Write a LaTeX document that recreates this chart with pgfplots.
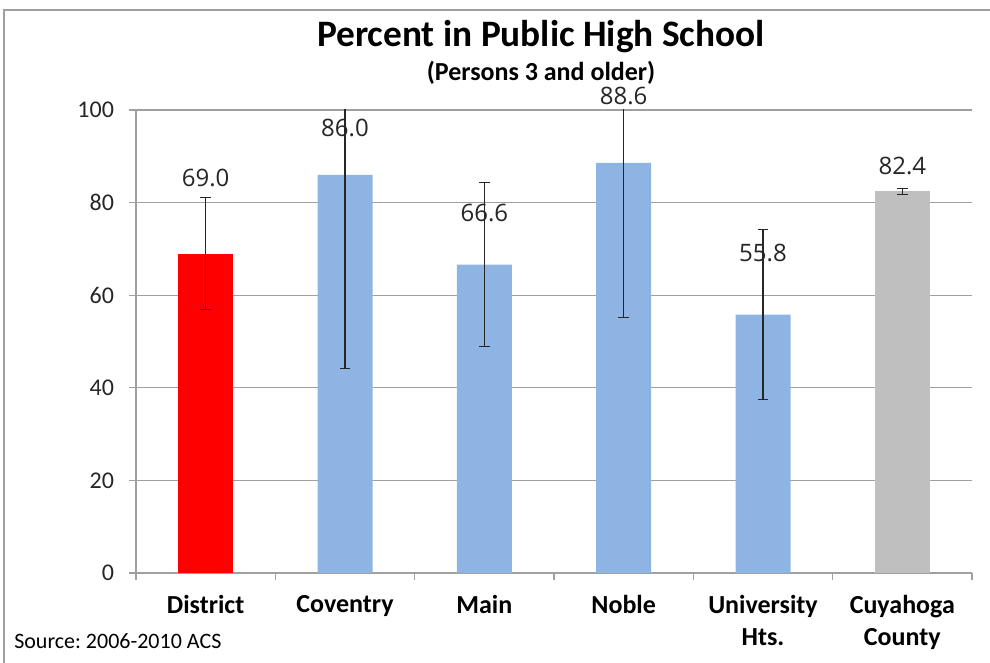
\documentclass[border=0pt]{standalone}
\usepackage{pgfplots}
\pgfplotsset{compat=1.18}
\usepackage{fontspec}
\setmainfont{Carlito}
\newfontfamily\lblfont{Open Sans}

\definecolor{barred}{RGB}{255,0,0}
\definecolor{barblue}{RGB}{141,180,226}
\definecolor{bargray}{RGB}{191,191,191}
\definecolor{linegray}{RGB}{160,160,160}

\begin{document}
\frenchspacing
\begin{tikzpicture}
% 1px = 0.75pt, picture is 990x663 px
\useasboundingbox (0,0) rectangle (742.5pt,497.25pt);
\draw[linegray, line width=0.8pt] (3pt,0) -- (3pt,489.75pt) -- (742.5pt,489.75pt);

\node[font=\fontsize{28}{32}\selectfont\bfseries] at (405.75pt,470pt) {Percent in Public High School};
\node[font=\fontsize{19.5}{22}\selectfont\bfseries] at (405.75pt,442.5pt) {(Persons 3 and older)};
\node[font=\fontsize{16.5}{19}\selectfont, anchor=west, inner sep=0pt] at (10.5pt,16.5pt) {Source: 2006-2010 ACS};

\begin{axis}[
    at={(102pt,67.5pt)}, anchor=south west,
    scale only axis,
    width=627pt, height=347.25pt,
    xmin=-0.5, xmax=5.5,
    ymin=0, ymax=100,
    clip mode=individual,
    axis x line*=bottom, axis y line*=left,
    axis line style={linegray, line width=0.8pt},
    ytick={0,20,...,100},
    xtick={0,...,5},
    xticklabels={District,Coventry,Main,Noble,University\\Hts.,Cuyahoga\\County},
    minor xtick={-0.5,0.5,...,5.5},
    major x tick style={draw=none},
    minor x tick style={linegray, line width=0.8pt},
    y tick style={linegray, line width=0.8pt},
    tick align=outside,
    major tick length=5pt, minor tick length=5pt,
    ymajorgrids,
    grid style={linegray, line width=0.8pt},
    yticklabel style={font=\fontsize{18}{20}\selectfont, black!85, xshift=-8pt},
    xticklabel style={font=\fontsize{19.5}{24}\selectfont\bfseries, align=center, yshift=-8pt},
    /pgf/number format/assume math mode=true,
    error bars/error bar style={black!85, line width=0.9pt},
    error bars/error mark options={rotate=90, mark size=4pt, black!85, line width=0.9pt},
]
\addplot[ybar, bar width=41.25pt, fill=barred, draw=none,
    error bars/.cd, y dir=both, y explicit]
    coordinates {(0,69.0) +- (0,12.1)};
\addplot[ybar, bar width=41.25pt, fill=barblue, draw=none,
    error bars/.cd, y dir=both, y explicit]
    coordinates {(1,86.0) +- (0,41.9) (2,66.6) +- (0,17.7) (3,88.6) +- (0,33.5) (4,55.8) +- (0,18.4)};
\addplot[ybar, bar width=41.25pt, fill=bargray, draw=none,
    error bars/.cd, y dir=both, y explicit]
    coordinates {(5,82.4) +- (0,0.6)};
% value labels
\addplot[clip=false, only marks, mark size=0pt, nodes near coords, point meta=explicit symbolic,
    nodes near coords align=center,
    every node near coord/.append style={font=\lblfont\fontsize{18}{20}\selectfont, text=black!85, anchor=center}]
    coordinates {(0,85.3)[69.0] (1,96.1)[86.0] (2,77.8)[66.6] (3,103.0)[88.6] (4,69.1)[55.8] (5,87.9)[82.4]};
\end{axis}
\end{tikzpicture}
\end{document}
